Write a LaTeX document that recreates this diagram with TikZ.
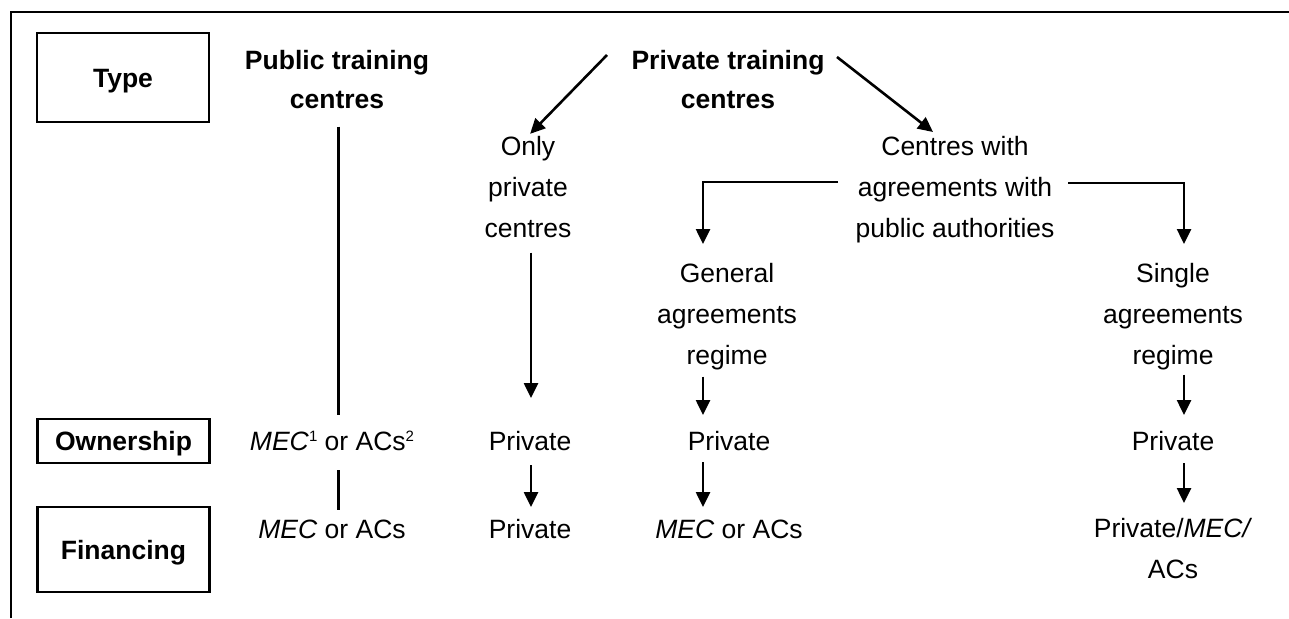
\documentclass[tikz,border=0pt]{standalone}
\usepackage{fontspec}
\setmainfont{Liberation Sans}
\usetikzlibrary{arrows.meta}
\newcommand{\supn}[1]{\raisebox{9pt}{\fontsize{15}{15}\selectfont #1}}
\begin{document}
\begin{tikzpicture}[x=1pt,y=-1pt,
  lbl/.style={align=center, inner sep=0pt, anchor=north,
    font=\fontsize{26.5}{41}\selectfont,
    execute at begin node={\rule{0pt}{20pt}},
    execute at end node={\rule[-6pt]{0pt}{6pt}}},
  blbl/.style={lbl, font=\fontsize{26.5}{39}\selectfont\bfseries},
  rowbox/.style={draw, line width=2.2pt, inner sep=0pt, text height=19pt, text depth=0pt,
    minimum width=172pt, font=\fontsize{26.5}{32}\selectfont\bfseries},
  ln/.style={line width=2.6pt},
  arr/.style={line width=2.6pt, -{Triangle[width=14pt,length=15pt]}}
]
\useasboundingbox (0,0) rectangle (1289,618);
% frame
\draw[line width=2.8pt] (11,618) -- (11,12) -- (1289,12);

% row boxes
\node[rowbox, minimum height=89pt] (type) at (123,77.5) {Type};
\node[rowbox, minimum height=44pt] (own) at (123.5,441) {Ownership};
\node[rowbox, minimum height=85pt] (fin) at (123.5,549.5) {Financing};

% type row
\node[blbl] (pub) at (337,50) {Public training\\centres};
\node[blbl] (priv) at (728,50) {Private training\\centres};
\node[lbl] (only) at (528,136) {Only\\private\\centres};
\node[lbl] (cwa) at (955,136) {Centres with\\agreements with\\public authorities};
\node[lbl] (gen) at (727,263) {General\\agreements\\regime};
\node[lbl] (sing) at (1173,263) {Single\\agreements\\regime};

% ownership row
\node[lbl] (own1) at (332,430) {\textit{MEC}\supn{1} or ACs\supn{2}};
\node[lbl] (own2) at (530,430) {Private};
\node[lbl] (own3) at (729,430) {Private};
\node[lbl] (own4) at (1173,430) {Private};

% financing row
\node[lbl] (fin1) at (332,518) {\textit{MEC} or ACs};
\node[lbl] (fin2) at (530,518) {Private};
\node[lbl] (fin3) at (729,518) {\textit{MEC} or ACs};
\node[lbl] (fin4) at (1173,518) {Private/\textit{MEC/}\\ACs};

% column references and free ends
\coordinate (c1) at (338.5,0);
\coordinate (c2) at (531,0);
\coordinate (c3) at (703,0);
\coordinate (c4) at (1184,0);
\coordinate (dl1) at (607,55);
\coordinate (dr1) at (837,57);
\coordinate (dr2) at (933,132);
\coordinate (el1) at (838,182);
\coordinate (el2) at (703,244);
\coordinate (er1) at (1068,183);
\coordinate (er2) at (1184,244);

% connectors
\draw[arr, shorten >=3pt] (dl1) -- (only.north);
\draw[arr] (dr1) -- (dr2);
\draw[arr] (el1) -| (el2);
\draw[arr] (er1) -| (er2);

\draw[ln, shorten <=12pt, shorten >=15pt] (pub.south -| c1) -- (own1.north -| c1);
\draw[ln, shorten <=14pt, shorten >=8pt] (own1.south -| c1) -- (fin1.north -| c1);

\draw[arr, shorten <=9pt, shorten >=32pt] (only.south -| c2) -- (own2.north -| c2);
\draw[arr, shorten <=9pt, shorten >=11pt] (own2.south -| c2) -- (fin2.north -| c2);

\draw[arr, shorten <=6pt, shorten >=15pt] (gen.south -| c3) -- (own3.north -| c3);
\draw[arr, shorten <=6pt, shorten >=11pt] (own3.south -| c3) -- (fin3.north -| c3);

\draw[arr, shorten <=4pt, shorten >=15pt] (sing.south -| c4) -- (own4.north -| c4);
\draw[arr, shorten <=7pt, shorten >=15pt] (own4.south -| c4) -- (fin4.north -| c4);
\end{tikzpicture}
\end{document}
